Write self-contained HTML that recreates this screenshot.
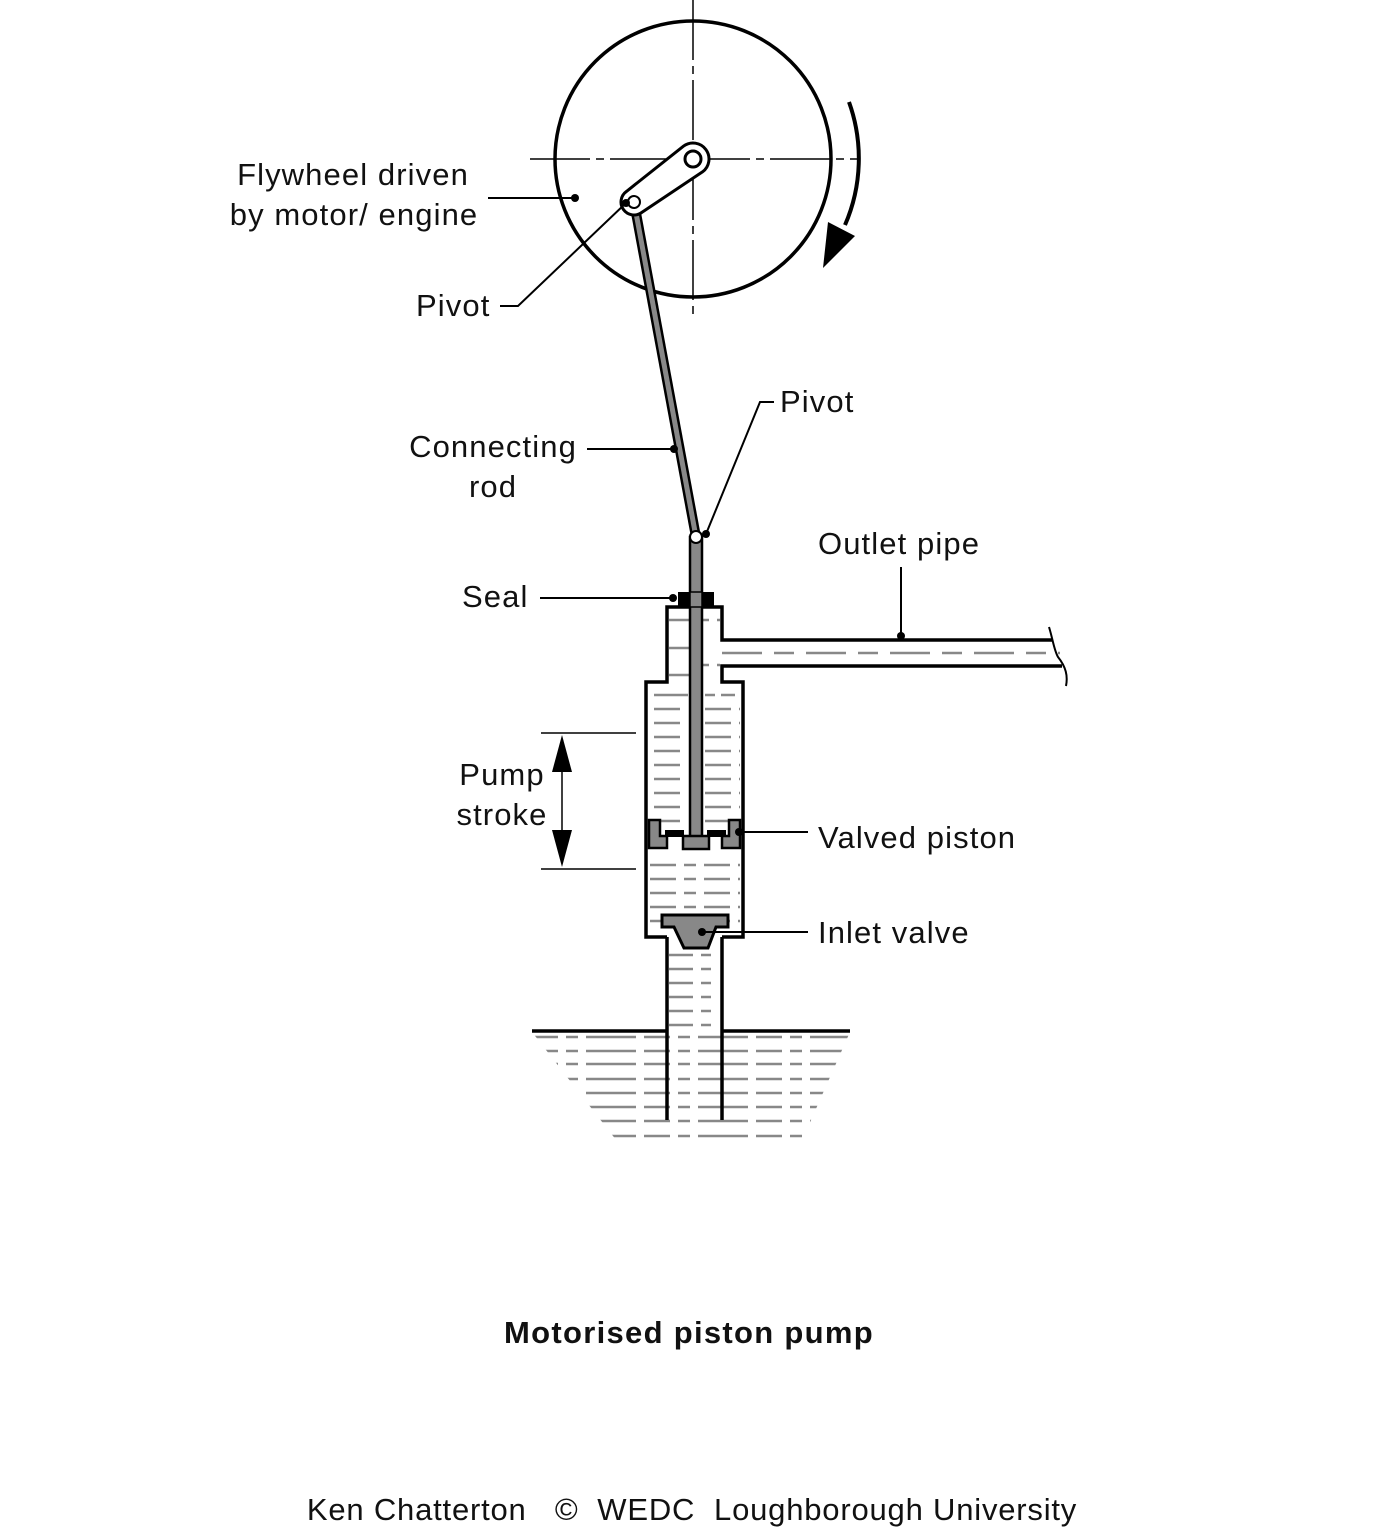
<!DOCTYPE html>
<html><head><meta charset="utf-8"><style>
html,body{margin:0;padding:0;background:#fff}
svg{display:block}
text{font-family:"Liberation Sans",sans-serif;font-size:31px;fill:#111;letter-spacing:1.1px}
</style></head><body>
<svg width="1388" height="1538" viewBox="0 0 1388 1538" xmlns="http://www.w3.org/2000/svg">
<defs>
<clipPath id="pond"><polygon points="532,1032 850,1032 800,1145 620,1145"/></clipPath>
</defs>
<g stroke="#000" stroke-width="1.5" fill="none">
<line x1="693" y1="0" x2="693" y2="318" stroke-dasharray="60,6,8,6"/>
<line x1="530" y1="159" x2="858" y2="159" stroke-dasharray="60,6,8,6"/>
</g>
<circle cx="693" cy="159" r="138" fill="none" stroke="#000" stroke-width="3.5"/>
<path d="M849,102 A167,167 0 0 1 845,225" fill="none" stroke="#000" stroke-width="4"/>
<polygon points="828,222 855,236 823,268" fill="#000"/>
<line x1="634" y1="202" x2="696" y2="537" stroke="#000" stroke-width="10"/>
<line x1="634" y1="202" x2="696" y2="537" stroke="#888" stroke-width="5"/>
<g transform="translate(693,159) rotate(143.9)">
<path d="M0,-16 L73,-13 A13,13 0 0 1 73,13 L0,16 A16,16 0 0 1 0,-16 Z" fill="#fff" stroke="#000" stroke-width="3"/>
</g>
<circle cx="693" cy="159" r="8" fill="#fff" stroke="#000" stroke-width="3"/>
<circle cx="634" cy="202" r="6" fill="#fff" stroke="#000" stroke-width="2"/>
<g stroke="#888" stroke-width="2.5">
<g stroke-dasharray="28,12">
<line x1="669" y1="620" x2="690" y2="620"/><line x1="669" y1="648" x2="690" y2="648"/><line x1="669" y1="675" x2="690" y2="675"/>
<line x1="703" y1="620" x2="720" y2="620" stroke-dasharray="6,8,6,50"/><line x1="703" y1="665" x2="720" y2="665" stroke-dasharray="6,8,6,50"/>
<line x1="722" y1="653" x2="1060" y2="653" stroke-dasharray="40,12,20,12"/>
</g>
<line x1="654" y1="695" x2="688" y2="695"/><line x1="705" y1="695" x2="740" y2="695" stroke-dasharray="10,6,14,6"/>
</g>
<g stroke="#888" stroke-width="2.5">
<path d="M654 709h34M654 723h34M654 737h34M654 751h34M654 765h34M654 779h34M654 793h34M654 807h34M654 821h34 M705 709h35M705 723h35M705 737h35M705 751h35M705 765h35M705 779h35M705 793h35M705 807h35M705 821h35" stroke-dasharray="26,8"/>
<path d="M650 865h90M650 879h90M650 893h90M650 907h90M650 921h90" stroke-dasharray="26,8,12,8"/>
<path d="M669 955h50M669 969h50M669 983h50M669 997h50M669 1011h50M669 1025h50" stroke-dasharray="24,8,10,8"/>
</g>
<g clip-path="url(#pond)" stroke="#888" stroke-width="2.5" stroke-dasharray="26,8,12,8,50,8">
<path d="M532 1037h330M532 1051h330M532 1064h330M532 1079h330M532 1093h330M532 1107h330M532 1121h330M532 1136h330"/>
</g>
<g stroke="#000" stroke-width="3.5" fill="none">
<line x1="532" y1="1031" x2="667" y2="1031"/>
<line x1="722" y1="1031" x2="850" y2="1031"/>
<line x1="667" y1="937" x2="667" y2="1120"/>
<line x1="722" y1="937" x2="722" y2="1120"/>
<path d="M667,937 H646 V682 H667 V607 H722 V640 H1052"/>
<path d="M722,937 H743 V682 H722 V666 H1062"/>
<path d="M1049,627 C1053,640 1054,650 1058,657 C1066,667 1068,676 1066,686" stroke-width="2"/>
</g>
<rect x="690" y="537" width="12" height="300" fill="#888" stroke="#000" stroke-width="2.5"/>
<rect x="678" y="592" width="36" height="15" fill="#000"/>
<rect x="690" y="592" width="12" height="15" fill="#888" stroke="#000" stroke-width="1.5"/>
<path d="M649,820 H660 V836 H667 V848 H649 Z" fill="#888" stroke="#000" stroke-width="2.5"/>
<path d="M740,820 H729 V836 H722 V848 H740 Z" fill="#888" stroke="#000" stroke-width="2.5"/>
<rect x="683" y="836" width="26" height="13" fill="#888" stroke="#000" stroke-width="2.5"/>
<rect x="665" y="830" width="19" height="7" fill="#000"/>
<rect x="707" y="830" width="19" height="7" fill="#000"/>
<path d="M662,915 H728 V927 H716 L708,948 H684 L674,927 H662 Z" fill="#888" stroke="#000" stroke-width="3"/>
<g stroke="#000" stroke-width="1.5">
<line x1="541" y1="733" x2="636" y2="733"/><line x1="541" y1="869" x2="636" y2="869"/>
<line x1="562" y1="760" x2="562" y2="840"/>
</g>
<polygon points="562,735 552,772 572,772" fill="#000"/>
<polygon points="562,867 552,830 572,830" fill="#000"/>
<circle cx="696" cy="537" r="6" fill="#fff" stroke="#000" stroke-width="2"/>
<g stroke="#000" stroke-width="2" fill="none">
<line x1="488" y1="198" x2="575" y2="198"/>
<polyline points="500,306 518,306 626,203"/>
<line x1="587" y1="449" x2="674" y2="449"/>
<polyline points="774,402 760,402 706,534"/>
<line x1="540" y1="598" x2="673" y2="598"/>
<line x1="901" y1="567" x2="901" y2="636"/>
<line x1="740" y1="832" x2="808" y2="832"/>
<line x1="704" y1="932" x2="808" y2="932"/>
</g>
<g fill="#000">
<circle cx="575" cy="198" r="4"/><circle cx="626" cy="203" r="4"/><circle cx="674" cy="449" r="4"/>
<circle cx="706" cy="534" r="4"/><circle cx="673" cy="598" r="4"/><circle cx="901" cy="636" r="4"/>
<circle cx="739" cy="832" r="4"/><circle cx="702" cy="932" r="4"/>
</g>
<text x="353" y="185" text-anchor="middle">Flywheel driven</text>
<text x="354" y="225" text-anchor="middle">by motor/ engine</text>
<text x="416" y="316">Pivot</text>
<text x="493" y="457" text-anchor="middle">Connecting</text>
<text x="493" y="497" text-anchor="middle">rod</text>
<text x="780" y="412">Pivot</text>
<text x="818" y="554">Outlet pipe</text>
<text x="462" y="607">Seal</text>
<text x="502" y="785" text-anchor="middle">Pump</text>
<text x="502" y="825" text-anchor="middle">stroke</text>
<text x="818" y="848">Valved piston</text>
<text x="818" y="943">Inlet valve</text>
<text x="689" y="1343" text-anchor="middle" font-weight="bold" style="font-size:31px;letter-spacing:1.3px">Motorised piston pump</text>
<text x="692" y="1520" text-anchor="middle" xml:space="preserve" style="letter-spacing:0.8px">Ken Chatterton   ©  WEDC  Loughborough University</text>
</svg>
</body></html>
